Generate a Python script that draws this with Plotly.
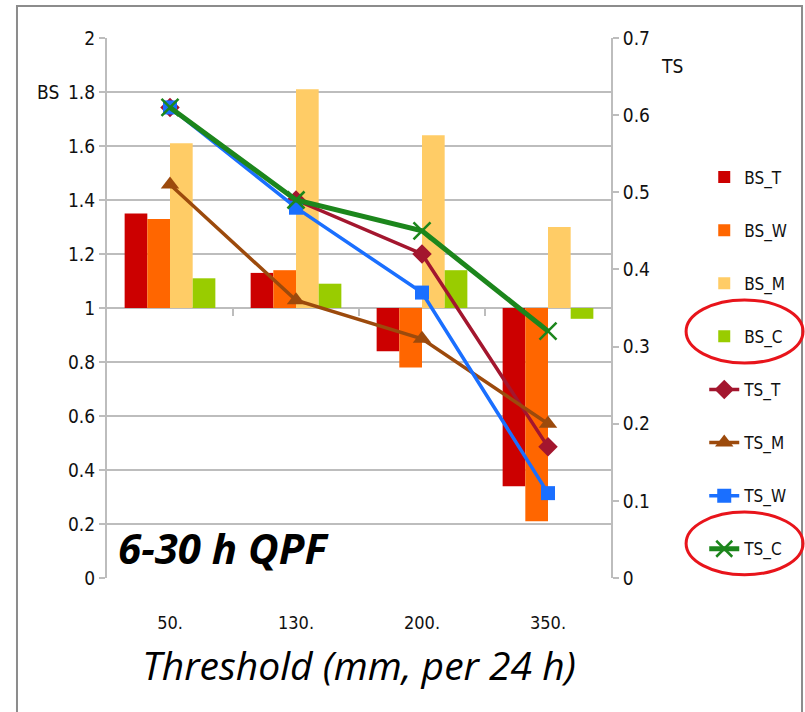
import plotly.graph_objects as go

# Precipitation thresholds (mm per 24 h)
thresholds = ["50.", "130.", "200.", "350."]

# Bias score per model (bars, drawn up/down from BS = 1)
bs_t = [1.35, 1.13, 0.84, 0.34]
bs_w = [1.33, 1.14, 0.78, 0.21]
bs_m = [1.61, 1.81, 1.64, 1.30]
bs_c = [1.11, 1.09, 1.14, 0.96]

# Threat score per model (lines, right axis)
ts_t = [0.61, 0.49, 0.42, 0.17]
ts_m = [0.51, 0.36, 0.31, 0.20]
ts_w = [0.61, 0.48, 0.37, 0.11]
ts_c = [0.61, 0.49, 0.45, 0.32]

bs_ticks = [0, 0.2, 0.4, 0.6, 0.8, 1, 1.2, 1.4, 1.6, 1.8, 2]
bs_ticktext = ["0", "0.2", "0.4", "0.6", "0.8", "1", "1.2", "1.4", "1.6", "1.8", "2"]
ts_ticks = [0, 0.1, 0.2, 0.3, 0.4, 0.5, 0.6, 0.7]
ts_ticktext = ["0", "0.1", "0.2", "0.3", "0.4", "0.5", "0.6", "0.7"]

NARROW = "Liberation Sans Narrow, DejaVu Sans Condensed, Arial Narrow, Liberation Sans, sans-serif"
GRID = "#bdbdbd"
BASE = 1.0

fig = go.Figure()

bar_specs = [
    ("BS_T", bs_t, "#cc0000"),
    ("BS_W", bs_w, "#ff6600"),
    ("BS_M", bs_m, "#ffcc66"),
    ("BS_C", bs_c, "#99cc00"),
]
for name, vals, color in bar_specs:
    fig.add_trace(go.Bar(
        name=name, x=thresholds, y=[v - BASE for v in vals], base=BASE,
        marker=dict(color=color, line=dict(width=0)),
        legendgroup=name, yaxis="y",
    ))

line_specs = [
    ("TS_T", ts_t, "#a3162e", "diamond", 15, 3.5),
    ("TS_M", ts_m, "#9c4a0c", "triangle-up", 16, 3.5),
    ("TS_W", ts_w, "#1a6fff", "square", 14, 3.5),
    ("TS_C", ts_c, "#1c861c", "x-thin", 17, 5),
]
for name, vals, color, sym, size, width in line_specs:
    fig.add_trace(go.Scatter(
        name=name, x=thresholds, y=vals, yaxis="y2", mode="lines+markers",
        line=dict(color=color, width=width),
        marker=dict(symbol=sym, size=size, color=color,
                    line=dict(color=color, width=2.5 if sym == "x-thin" else 0)),
        legendgroup=name,
    ))

# Category separator ticks on the BS = 1 baseline
for b in [0.5, 1.5, 2.5]:
    fig.add_shape(type="line", xref="x", yref="y", x0=b, x1=b, y0=BASE, y1=BASE - 0.03,
                  line=dict(color=GRID, width=2))

# Outer frame
fig.add_shape(type="rect", xref="paper", yref="paper", x0=-0.1786, x1=1.379,
              y0=-0.35, y1=1.0593, line=dict(color="#8c8c8c", width=2), layer="below")

# Highlight ellipses around the BS_C and TS_C legend entries
for y0, y1 in [(0.398, 0.515), (0.006, 0.122)]:
    fig.add_shape(type="circle", xref="paper", yref="paper", x0=1.149, x1=1.381,
                  y0=y0, y1=y1, line=dict(color="#e8141b", width=3))

fig.add_annotation(text="<b><i>6-30 h QPF</i></b>", xref="paper", yref="paper",
                   x=0.018, y=0.057, xanchor="left", yanchor="middle", showarrow=False,
                   font=dict(family="Open Sans, sans-serif", size=42, color="#000"))
fig.add_annotation(text="BS", xref="paper", yref="paper", x=-0.092, y=0.9, xanchor="right",
                   yanchor="middle", showarrow=False,
                   font=dict(family=NARROW, size=19, color="#111"))
fig.add_annotation(text="TS", xref="paper", yref="paper", x=1.095, y=0.948, xanchor="left",
                   yanchor="middle", showarrow=False,
                   font=dict(family=NARROW, size=19, color="#111"))

fig.update_layout(
    width=805, height=712,
    margin=dict(l=107, r=194, t=38, b=134, autoexpand=False),
    paper_bgcolor="white", plot_bgcolor="white",
    barmode="group", bargap=0.28, bargroupgap=0,
    showlegend=True,
    legend=dict(x=1.185, y=0.775, xanchor="left", yanchor="top",
                font=dict(family=NARROW, size=17, color="#111"),
                tracegroupgap=28, itemwidth=30, bgcolor="rgba(0,0,0,0)"),
    xaxis=dict(
        type="category", showgrid=False, zeroline=False, showline=False,
        ticks="", ticklabelstandoff=32,
        tickfont=dict(family=NARROW, size=18, color="#111"),
        title=dict(text="<i>Threshold (mm, per 24 h)</i>", standoff=20,
                   font=dict(family="Open Sans, sans-serif", size=39, color="#000")),
    ),
    yaxis=dict(
        range=[0, 2], tickvals=bs_ticks, ticktext=bs_ticktext,
        showgrid=True, gridcolor=GRID, gridwidth=2, zeroline=False,
        showline=True, linecolor=GRID, linewidth=2,
        ticks="outside", ticklen=6, tickcolor=GRID, tickwidth=2,
        tickfont=dict(family=NARROW, size=19, color="#111"),
    ),
    yaxis2=dict(
        range=[0, 0.7], tickvals=ts_ticks, ticktext=ts_ticktext,
        overlaying="y", side="right", showgrid=False, zeroline=False,
        showline=True, linecolor=GRID, linewidth=2,
        ticks="outside", ticklen=6, tickcolor=GRID, tickwidth=2,
        tickfont=dict(family=NARROW, size=19, color="#111"),
    ),
)

fig.write_html("out.html")
